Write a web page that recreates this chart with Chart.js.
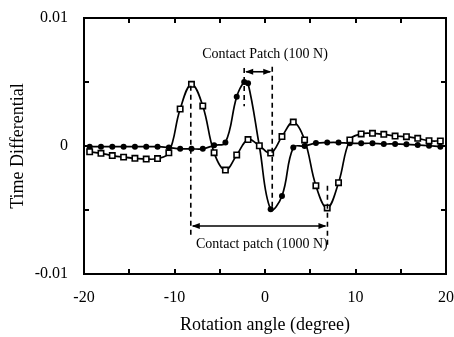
<!DOCTYPE html>
<html><head><meta charset="utf-8">
<script src="https://cdn.jsdelivr.net/npm/chart.js@4.4.0/dist/chart.umd.min.js"></script>
<style>html,body{margin:0;padding:0;background:#fff}#wrap{width:454px;height:337px;position:relative}</style>
</head><body><div id="wrap"><canvas id="c"></canvas></div>
<script>
// Rotation angle (degree) sample positions
const angles = [-19.375,-18.125,-16.875,-15.625,-14.375,-13.125,-11.875,-10.625,-9.375,-8.125,-6.875,-5.625,-4.375,-3.125,-1.875,-0.625,0.625,1.875,3.125,4.375,5.625,6.875,8.125,9.375,10.625,11.875,13.125,14.375,15.625,16.875,18.125,19.375];
// Series drawn with hollow squares
const squareValues = [-0.00045,-0.00057,-0.00075,-0.00087,-0.00096,-0.00102,-0.00098,-0.00053,0.00289,0.00482,0.00313,-0.00052,-0.00188,-0.0007,0.0005,0.00002,-0.00055,0.00074,0.00187,0.00047,-0.0031,-0.00484,-0.00287,0.00047,0.00094,0.00099,0.00091,0.00078,0.00073,0.0006,0.00041,0.00039];
// Series drawn with filled circles
const circleAngles = [-19.375,-18.125,-16.875,-15.625,-14.375,-13.125,-11.875,-10.625,-9.375,-8.125,-6.875,-5.625,-4.375,-3.125,-2.3,-1.875,-0.625,0.625,1.875,3.125,4.375,5.625,6.875,8.125,9.375,10.625,11.875,13.125,14.375,15.625,16.875,18.125,19.375];
const circleValues = [-0.00005,-0.00005,-0.00005,-0.00005,-0.00005,-0.00005,-0.00005,-0.00012,-0.00022,-0.00022,-0.00022,0.00005,0.00027,0.00385,0.0050,0.0049,0.0,-0.00495,-0.0039,-0.00012,0.0,0.00023,0.00027,0.00027,0.00021,0.00021,0.00021,0.00016,0.00016,0.00013,0.00008,0.00002,-0.00005];
// Axis tick labels
const xTickLabels = ['-20','-10','0','10','20'];
const yTickLabels = ['-0.01','0','0.01'];
// Annotation data (data units)
const guideX = [-8.2, 6.9, -2.3, 0.8];
const guideTop = [0.0047, -0.0031, 0.0061, 0.0062];
const guideBottom = [-0.0070, -0.0080, 0.0031, -0.0050];
const arrowFrom = [-2.3, -8.2];
const arrowTo = [0.8, 6.9];
const arrowY = [0.0058, -0.00625];
const noteText = ['Contact Patch (100 N)', 'Contact patch (1000 N)'];
const noteX = [0.0, -0.35];
const noteY = [0.00715, -0.00766];

const FONT = "'Liberation Serif', 'Times New Roman', serif";

const squareData = angles.map((a, i) => ({x: a, y: squareValues[i]}));
const circleData = circleAngles.map((a, i) => ({x: a, y: circleValues[i]}));

function near(v, t) { return Math.abs(v - t) < 1e-9; }

const framePlugin = {
  id: 'frame',
  afterDatasetsDraw(chart) {
    const {ctx, chartArea: a, scales: {x, y}} = chart;
    ctx.save();
    ctx.strokeStyle = '#000';
    ctx.fillStyle = '#000';
    const line = (x1, y1, x2, y2) => { ctx.beginPath(); ctx.moveTo(x1, y1); ctx.lineTo(x2, y2); ctx.stroke(); };
    // frame
    ctx.lineWidth = 2;
    ctx.strokeRect(a.left, a.top, a.right - a.left, a.bottom - a.top);
    // inward ticks on all four sides
    x.ticks.forEach(t => {
      const px = Math.round(x.getPixelForValue(t.value));
      line(px, a.bottom, px, a.bottom - 5);
      line(px, a.top, px, a.top + 5);
    });
    y.ticks.forEach(t => {
      const py = Math.round(y.getPixelForValue(t.value));
      line(a.left, py, a.left + 5, py);
      line(a.right, py, a.right - 5, py);
    });
    // dashed guides
    ctx.lineWidth = 1.6;
    ctx.setLineDash([5, 4]);
    guideX.forEach((gx, i) => {
      const px = x.getPixelForValue(gx);
      line(px, y.getPixelForValue(guideTop[i]), px, y.getPixelForValue(guideBottom[i]));
    });
    ctx.setLineDash([]);
    // double arrows
    ctx.lineWidth = 1.6;
    arrowFrom.forEach((fx, i) => {
      const x1 = x.getPixelForValue(fx), x2 = x.getPixelForValue(arrowTo[i]);
      const py = y.getPixelForValue(arrowY[i]);
      line(x1 + 2, py, x2 - 2, py);
      ctx.beginPath(); ctx.moveTo(x1 + 1, py); ctx.lineTo(x1 + 9, py - 3); ctx.lineTo(x1 + 9, py + 3); ctx.closePath(); ctx.fill();
      ctx.beginPath(); ctx.moveTo(x2 - 1, py); ctx.lineTo(x2 - 9, py - 3); ctx.lineTo(x2 - 9, py + 3); ctx.closePath(); ctx.fill();
    });
    // notes
    ctx.font = '14px ' + FONT;
    ctx.textAlign = 'center';
    ctx.textBaseline = 'middle';
    noteText.forEach((s, i) => {
      ctx.fillText(s, x.getPixelForValue(noteX[i]), y.getPixelForValue(noteY[i]));
    });
    ctx.restore();
  }
};

new Chart(document.getElementById('c'), {
  type: 'scatter',
  data: {
    datasets: [
      {
        label: 'squares', data: squareData, showLine: true, tension: 0.4,
        borderColor: '#000', borderWidth: 1.7,
        pointStyle: 'rect', pointRadius: 3.8, pointBorderWidth: 1.6,
        pointBackgroundColor: '#fff', pointBorderColor: '#000'
      },
      {
        label: 'circles', data: circleData, showLine: true, tension: 0.4,
        borderColor: '#000', borderWidth: 1.7,
        pointStyle: 'circle', pointRadius: 3, pointBorderWidth: 0,
        pointBackgroundColor: '#000', pointBorderColor: '#000'
      }
    ]
  },
  options: {
    responsive: true, maintainAspectRatio: false, animation: false, devicePixelRatio: 1,
    layout: {padding: {top: 18, right: 8, left: 0, bottom: 0}},
    plugins: {legend: {display: false}, tooltip: {enabled: false}},
    scales: {
      x: {
        type: 'linear', min: -20, max: 20,
        grid: {display: false, drawTicks: false}, border: {display: false},
        ticks: {
          stepSize: 5, autoSkip: false, maxRotation: 0, padding: 14, color: '#000',
          font: {family: FONT, size: 16},
          callback: v => { const s = String(v); return xTickLabels.includes(s) ? s : ''; }
        },
        title: {display: true, text: 'Rotation angle (degree)', color: '#000', font: {family: FONT, size: 18}, padding: {top: 0, bottom: 1}},
        afterFit(s) { s.height = 63; s.paddingLeft = 0; s.paddingRight = 0; }
      },
      y: {
        type: 'linear', min: -0.01, max: 0.01,
        grid: {display: false, drawTicks: false}, border: {display: false},
        ticks: {
          stepSize: 0.005, autoSkip: false, padding: 16, color: '#000',
          font: {family: FONT, size: 16},
          callback: v => near(v, 0.01) ? yTickLabels[2] : near(v, 0) ? yTickLabels[1] : near(v, -0.01) ? yTickLabels[0] : ''
        },
        title: {display: true, text: 'Time Differential', color: '#000', font: {family: FONT, size: 18}, padding: {top: 7, bottom: 0}},
        afterFit(s) { s.width = 84; s.paddingTop = 0; s.paddingBottom = 0; }
      }
    }
  },
  plugins: [framePlugin]
});
</script>
</body></html>
